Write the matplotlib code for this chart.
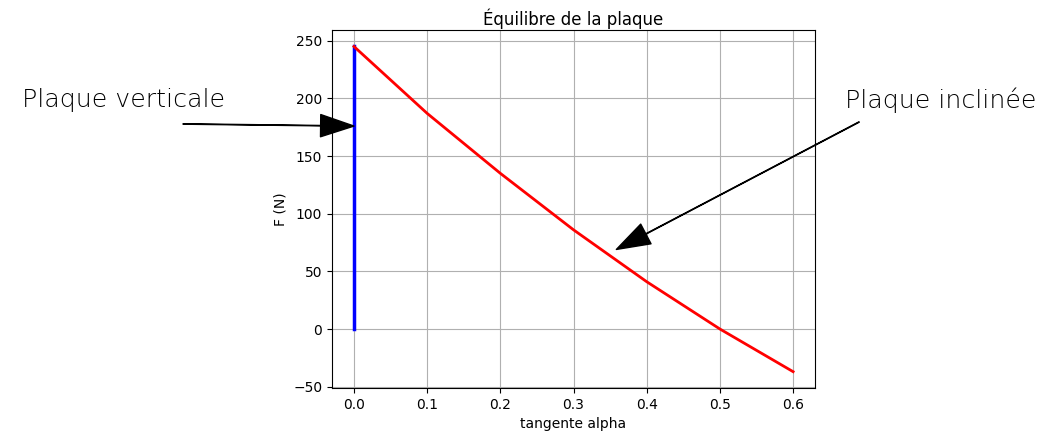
import numpy as np
import matplotlib.pyplot as plt

# valeurs
tan_alpha = [0.0, 0.1, 0.2, 0.3, 0.4, 0.5, 0.6]
F_inclinee = [245, 187, 135, 86, 41, 0, -37]

# plaque verticale : tangente nulle
tan_vert = [0.0, 0.0]
F_vert = [0, 245]

fig = plt.figure(figsize=(10.49, 4.32), dpi=100)
ax = fig.add_axes([0.3165, 0.102, 0.4605, 0.828])

ax.plot(tan_vert, F_vert, color="blue", linewidth=2.5)
ax.plot(tan_alpha, F_inclinee, color="red", linewidth=2)

ax.set_title("Équilibre de la plaque", pad=4)
ax.set_xlabel("tangente alpha")
ax.set_ylabel("F (N)")
ax.grid(True)

# annotations
fig.text(0.021, 0.768, "Plaque verticale", fontsize=18.2, family="DejaVu Sans",
         fontweight="light", va="center", ha="left")
fig.text(0.806, 0.768, "Plaque inclinée", fontsize=18.2, family="DejaVu Sans",
         fontweight="light", va="center", ha="left")

arrow = dict(facecolor="black", edgecolor="black", width=0.3, headwidth=16,
             headlength=24, shrink=0)
ax.annotate("", xy=(0.0, 176), xycoords="data",
            xytext=(0.1745, 0.713), textcoords="figure fraction",
            arrowprops=arrow)
ax.annotate("", xy=(0.3585, 69), xycoords="data",
            xytext=(0.819, 0.7176), textcoords="figure fraction",
            arrowprops=arrow)

fig.savefig("out.png", dpi=100)
